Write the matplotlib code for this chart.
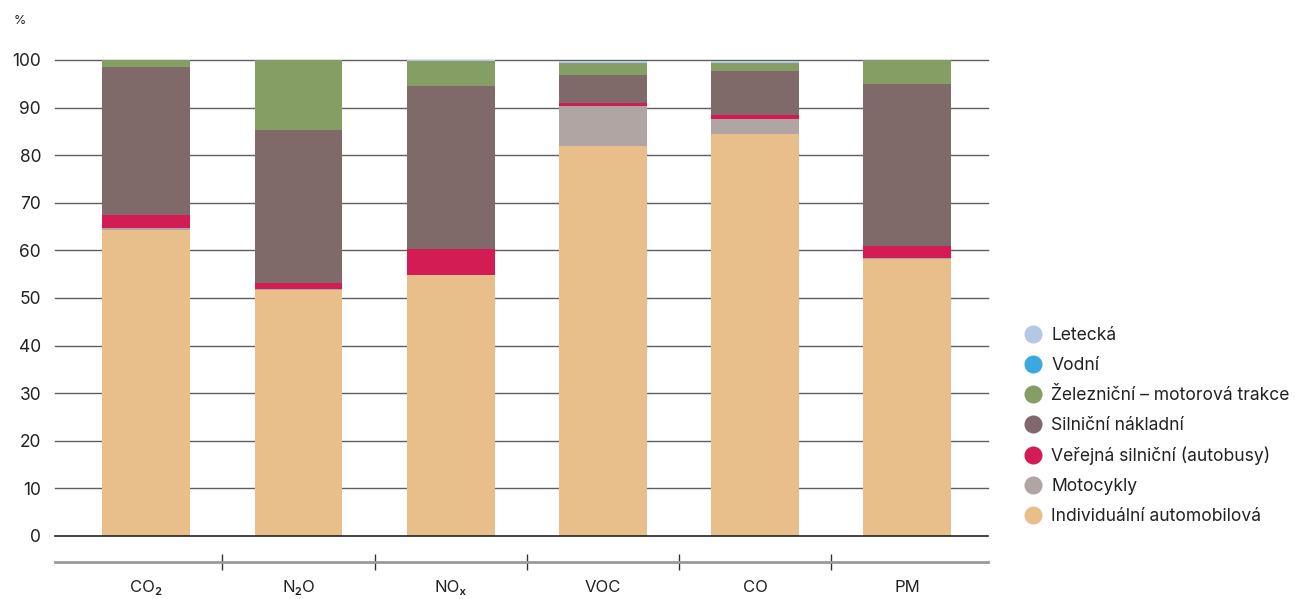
import numpy as np
import matplotlib.pyplot as plt
from matplotlib.lines import Line2D

plt.rcParams['font.family'] = ['Inter', 'DejaVu Sans']

categories = ["CO₂", "N₂O", "NOₓ", "VOC", "CO", "PM"]

# podíly jednotlivých druhů dopravy (%)
individualni = [64.3, 51.7, 54.8, 81.9, 84.5, 58.2]
motocykly = [0.4, 0.1, 0.1, 8.4, 3.1, 0.2]
autobusy = [2.7, 1.4, 5.3, 0.7, 0.8, 2.5]
nakladni = [31.1, 32.1, 34.4, 5.8, 9.3, 34.1]
zeleznicni = [1.5, 14.7, 5.2, 2.6, 1.7, 5.0]
vodni = [0.0, 0.0, 0.0, 0.0, 0.0, 0.0]
letecka = [0.0, 0.0, 0.2, 0.3, 0.3, 0.0]

series = [
    ("Individuální automobilová", individualni, "#e8bf8a"),
    ("Motocykly", motocykly, "#b1a5a3"),
    ("Veřejná silniční (autobusy)", autobusy, "#d31c53"),
    ("Silniční nákladní", nakladni, "#806a69"),
    ("Železniční – motorová trakce", zeleznicni, "#849e63"),
    ("Vodní", vodni, "#3ba8e0"),
    ("Letecká", letecka, "#b4c7e7"),
]

fig = plt.figure(figsize=(13.03, 5.99), dpi=100)
ax = fig.add_axes([55 / 1303, 63 / 599, 933 / 1303, 476 / 599])

x = np.arange(len(categories))
bottom = np.zeros(len(categories))
for name, vals, col in series:
    ax.bar(x, vals, width=0.577, bottom=bottom, color=col, zorder=3, linewidth=0)
    bottom += np.array(vals)

for t in range(10, 101, 10):
    ax.axhline(t, color="#5f5f5f", lw=1.0, zorder=1, clip_on=False)
ax.axhline(0, color="#222222", lw=1.2, zorder=4, clip_on=False)

ax.set_xlim(-0.6, 5.53)
ax.set_ylim(0, 100)
ax.set_yticks(range(0, 101, 10))
ax.tick_params(axis="y", length=0, pad=10, labelsize=12.5, labelcolor="#222222")

for s in ["top", "right", "left"]:
    ax.spines[s].set_visible(False)
ax.spines["bottom"].set_position(("outward", 19))
ax.spines["bottom"].set_color("#9a9a9a")
ax.spines["bottom"].set_linewidth(2)

ax.set_xticks(x[:-1] + 0.5)
ax.set_xticklabels([])
ax.tick_params(axis="x", which="major", direction="inout", length=12, width=1, color="#333333")
ax.set_xticks(x, minor=True)
ax.set_xticklabels(categories, minor=True)
ax.tick_params(axis="x", which="minor", length=0, pad=13, labelsize=12, labelcolor="#222222")

fig.text(14 / 1303, 1 - 21 / 599, "%", fontsize=9, va="center", ha="left", color="#222222")

handles = [Line2D([], [], ls="", marker="o", markersize=13, color=col, markeredgewidth=0)
           for name, vals, col in series[::-1]]
labels = [name for name, vals, col in series[::-1]]
fig.legend(handles, labels, loc="center left", bbox_to_anchor=(1024 / 1303, 173 / 599),
           frameon=False, fontsize=12.6, handlelength=1.0, handletextpad=0.55,
           labelspacing=0.74, borderpad=0, borderaxespad=0, labelcolor="#222222")

fig.savefig("out.png", dpi=100)
